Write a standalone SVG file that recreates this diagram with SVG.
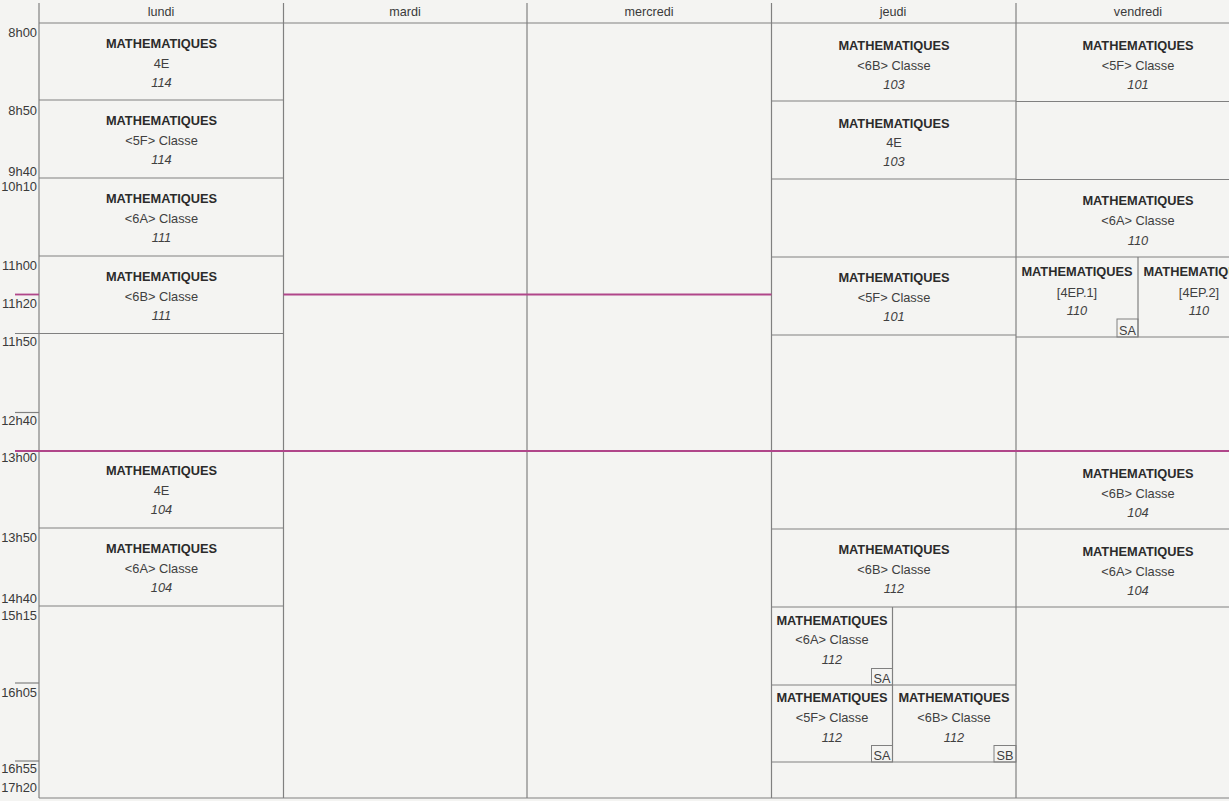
<svg xmlns="http://www.w3.org/2000/svg" width="1229" height="801" viewBox="0 0 1229 801">
<style>
.g{stroke:#808080;stroke-width:1.2;fill:none}
.m{stroke:#b0468a;stroke-width:1.8;fill:none}
.day{font-family:"Liberation Sans",Arial,sans-serif;font-size:12.6px;fill:#3a3a3a;text-anchor:middle}
.tm{font-family:"Liberation Sans",Arial,sans-serif;font-size:12.9px;fill:#3a3a3a;text-anchor:end}
.t{font-family:"Liberation Sans",Arial,sans-serif;font-size:12.8px;font-weight:bold;fill:#2b2b2b;text-anchor:middle}
.c{font-family:"Liberation Sans",Arial,sans-serif;font-size:12.8px;fill:#404040;text-anchor:middle}
.r{font-family:"Liberation Sans",Arial,sans-serif;font-size:12.8px;font-style:italic;fill:#404040;text-anchor:middle}
.tag{font-family:"Liberation Sans",Arial,sans-serif;font-size:12.7px;fill:#404040;text-anchor:middle}
.box{stroke:#808080;stroke-width:1;fill:none}
</style>
<rect x="0" y="0" width="1229" height="801" fill="#f4f4f2"/>

<g id="grid">
  <line class="g" x1="39" y1="3" x2="39" y2="798"/>
  <line class="g" x1="283.5" y1="3" x2="283.5" y2="798"/>
  <line class="g" x1="527" y1="3" x2="527" y2="798"/>
  <line class="g" x1="771.5" y1="3" x2="771.5" y2="798"/>
  <line class="g" x1="1016" y1="3" x2="1016" y2="798"/>
  <line class="g" x1="892.5" y1="607" x2="892.5" y2="762"/>
  <line class="g" x1="1138" y1="257" x2="1138" y2="337"/>
  <line class="g" x1="39" y1="23" x2="1229" y2="23"/>
  <line class="g" x1="39" y1="798" x2="1229" y2="798"/>
  <line class="g" x1="39" y1="100" x2="283.5" y2="100"/>
  <line class="g" x1="39" y1="178" x2="283.5" y2="178"/>
  <line class="g" x1="39" y1="256" x2="283.5" y2="256"/>
  <line class="g" x1="15" y1="333.5" x2="283.5" y2="333.5"/>
  <line class="g" x1="15" y1="412.5" x2="39" y2="412.5"/>
  <line class="g" x1="39" y1="528" x2="283.5" y2="528"/>
  <line class="g" x1="39" y1="606" x2="283.5" y2="606"/>
  <line class="g" x1="15" y1="683" x2="39" y2="683"/>
  <line class="g" x1="15" y1="761" x2="39" y2="761"/>
  <line class="g" x1="771.5" y1="101" x2="1016" y2="101"/>
  <line class="g" x1="771.5" y1="179" x2="1016" y2="179"/>
  <line class="g" x1="771.5" y1="257" x2="1016" y2="257"/>
  <line class="g" x1="771.5" y1="335" x2="1016" y2="335"/>
  <line class="g" x1="771.5" y1="529" x2="1016" y2="529"/>
  <line class="g" x1="771.5" y1="607" x2="1016" y2="607"/>
  <line class="g" x1="771.5" y1="685" x2="1016" y2="685"/>
  <line class="g" x1="771.5" y1="762" x2="1016" y2="762"/>
  <line class="g" x1="1016" y1="101.5" x2="1229" y2="101.5"/>
  <line class="g" x1="1016" y1="179.5" x2="1229" y2="179.5"/>
  <line class="g" x1="1016" y1="257" x2="1229" y2="257"/>
  <line class="g" x1="1016" y1="337" x2="1229" y2="337"/>
  <line class="g" x1="1016" y1="529" x2="1229" y2="529"/>
  <line class="g" x1="1016" y1="607" x2="1229" y2="607"/>
  <line class="m" x1="15" y1="294.5" x2="39" y2="294.5"/>
  <line class="m" x1="283.5" y1="294.5" x2="771.5" y2="294.5"/>
  <line class="m" x1="15" y1="451" x2="1229" y2="451"/>
</g>

<g id="days">
  <text class="day" x="161" y="16">lundi</text>
  <text class="day" x="405" y="16">mardi</text>
  <text class="day" x="649" y="16">mercredi</text>
  <text class="day" x="893" y="16">jeudi</text>
  <text class="day" x="1138" y="16">vendredi</text>
</g>

<g id="times">
  <text class="tm" x="37" y="37">8h00</text>
  <text class="tm" x="37" y="114.5">8h50</text>
  <text class="tm" x="37" y="175.5">9h40</text>
  <text class="tm" x="37" y="191">10h10</text>
  <text class="tm" x="37" y="270">11h00</text>
  <text class="tm" x="37" y="307.5">11h20</text>
  <text class="tm" x="37" y="346">11h50</text>
  <text class="tm" x="37" y="424.5">12h40</text>
  <text class="tm" x="37" y="461.5">13h00</text>
  <text class="tm" x="37" y="541.5">13h50</text>
  <text class="tm" x="37" y="602.5">14h40</text>
  <text class="tm" x="37" y="619.5">15h15</text>
  <text class="tm" x="37" y="697">16h05</text>
  <text class="tm" x="37" y="772.5">16h55</text>
  <text class="tm" x="37" y="791.5">17h20</text>
</g>

<g id="lun-0800"><text class="t" x="161.5" y="47.5">MATHEMATIQUES</text><text class="c" x="161.5" y="67.5">4E</text><text class="r" x="161.5" y="86.5">114</text></g>
<g id="lun-0850"><text class="t" x="161.5" y="124.5">MATHEMATIQUES</text><text class="c" x="161.5" y="144.5">&lt;5F&gt; Classe</text><text class="r" x="161.5" y="163.5">114</text></g>
<g id="lun-1010"><text class="t" x="161.5" y="202.5">MATHEMATIQUES</text><text class="c" x="161.5" y="222.5">&lt;6A&gt; Classe</text><text class="r" x="161.5" y="241.5">111</text></g>
<g id="lun-1100"><text class="t" x="161.5" y="280.5">MATHEMATIQUES</text><text class="c" x="161.5" y="300.5">&lt;6B&gt; Classe</text><text class="r" x="161.5" y="319.5">111</text></g>
<g id="lun-1300"><text class="t" x="161.5" y="475">MATHEMATIQUES</text><text class="c" x="161.5" y="495">4E</text><text class="r" x="161.5" y="514">104</text></g>
<g id="lun-1350"><text class="t" x="161.5" y="552.5">MATHEMATIQUES</text><text class="c" x="161.5" y="572.5">&lt;6A&gt; Classe</text><text class="r" x="161.5" y="591.5">104</text></g>

<g id="jeu-0800"><text class="t" x="894" y="50">MATHEMATIQUES</text><text class="c" x="894" y="69.5">&lt;6B&gt; Classe</text><text class="r" x="894" y="88.5">103</text></g>
<g id="jeu-0850"><text class="t" x="894" y="127.5">MATHEMATIQUES</text><text class="c" x="894" y="147">4E</text><text class="r" x="894" y="166">103</text></g>
<g id="jeu-1100"><text class="t" x="894" y="281.5">MATHEMATIQUES</text><text class="c" x="894" y="301.5">&lt;5F&gt; Classe</text><text class="r" x="894" y="320.5">101</text></g>
<g id="jeu-1350"><text class="t" x="894" y="554">MATHEMATIQUES</text><text class="c" x="894" y="574">&lt;6B&gt; Classe</text><text class="r" x="894" y="593">112</text></g>
<g id="jeu-1515a"><text class="t" x="832" y="624.5">MATHEMATIQUES</text><text class="c" x="832" y="643.5">&lt;6A&gt; Classe</text><text class="r" x="832" y="663.5">112</text><rect class="box" x="871.5" y="668.5" width="21" height="16.5"/><text class="tag" x="882" y="683">SA</text></g>
<g id="jeu-1605a"><text class="t" x="832" y="701.5">MATHEMATIQUES</text><text class="c" x="832" y="721.5">&lt;5F&gt; Classe</text><text class="r" x="832" y="741.5">112</text><rect class="box" x="871.5" y="745.5" width="21" height="16.5"/><text class="tag" x="882" y="760">SA</text></g>
<g id="jeu-1605b"><text class="t" x="954" y="701.5">MATHEMATIQUES</text><text class="c" x="954" y="721.5">&lt;6B&gt; Classe</text><text class="r" x="954" y="741.5">112</text><rect class="box" x="994" y="745.5" width="22" height="16.5"/><text class="tag" x="1005" y="760">SB</text></g>

<g id="ven-0800"><text class="t" x="1138" y="50">MATHEMATIQUES</text><text class="c" x="1138" y="69.5">&lt;5F&gt; Classe</text><text class="r" x="1138" y="88.5">101</text></g>
<g id="ven-1010"><text class="t" x="1138" y="204.5">MATHEMATIQUES</text><text class="c" x="1138" y="225">&lt;6A&gt; Classe</text><text class="r" x="1138" y="244.5">110</text></g>
<g id="ven-1100a"><text class="t" x="1077" y="275.5">MATHEMATIQUES</text><text class="c" x="1077" y="296.5">[4EP.1]</text><text class="r" x="1077" y="314.5">110</text><rect class="box" x="1117" y="319" width="21" height="18"/><text class="tag" x="1127.5" y="334.5">SA</text></g>
<g id="ven-1100b"><text class="t" x="1199" y="275.5">MATHEMATIQUES</text><text class="c" x="1199" y="296.5">[4EP.2]</text><text class="r" x="1199" y="314.5">110</text></g>
<g id="ven-1300"><text class="t" x="1138" y="477.5">MATHEMATIQUES</text><text class="c" x="1138" y="497.5">&lt;6B&gt; Classe</text><text class="r" x="1138" y="516.5">104</text></g>
<g id="ven-1350"><text class="t" x="1138" y="555.5">MATHEMATIQUES</text><text class="c" x="1138" y="575.5">&lt;6A&gt; Classe</text><text class="r" x="1138" y="594.5">104</text></g>
</svg>
